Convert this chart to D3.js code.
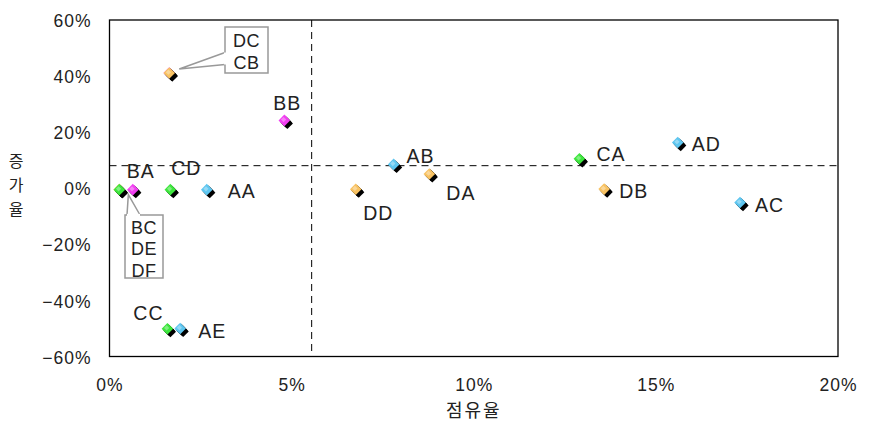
<!DOCTYPE html>
<html>
<head>
<meta charset="utf-8">
<script src="https://cdn.jsdelivr.net/npm/d3@7"></script>
<style>
  body { margin: 0; background: #fff; }
  svg text { font-family: "Liberation Sans", Arial, sans-serif; fill: #222; }
  .kr { font-family: "Noto Sans CJK KR", sans-serif; }
</style>
</head>
<body>
<div id="chart"></div>
<script>
// data, hidden points come first so they sit underneath
const names  = ['AA', 'AB', 'AC', 'AD', 'AE', 'BA', 'BB', 'DE', 'DF', 'BC', 'CA', 'CC', 'CD', 'CB', 'DC', 'DA', 'DB', 'DD'];
const share  = [2.67, 7.80, 17.31, 15.60, 1.94, 0.64, 4.80, 0.27, 0.27, 0.27, 12.90, 1.59, 1.67, 1.64, 1.64, 8.78, 13.58, 6.76];
const growth = [-0.5, 8.5, -5.1, 16.3, -50.0, -0.5, 24.2, -0.5, -0.5, -0.5, 10.5, -50.1, -0.5, 41.1, 41.1, 5.1, -0.3, -0.35];
const series = ['a', 'a', 'a', 'a', 'a', 'b', 'b', 'd', 'd', 'c', 'c', 'c', 'c', 'b', 'd', 'd', 'd', 'd'];
const xTicks = [0, 5, 10, 15, 20];
const yTicks = [-60, -40, -20, 0, 20, 40, 60];
const xRef = 5.55;   // average share
const yRef = 8.05;   // average growth
const callouts = [['DC', 'CB'], ['BC', 'DE', 'DF']];

const WIDTH = 881, HEIGHT = 429;
const colors = { a: '#5ec6f0', b: '#f23ef2', c: '#3de63d', d: '#f8c262' };

// label placement: [anchor, dx, dy]
const labelPos = {
  AA: ['start', 21, 8], BB: ['middle', 3, -10], BA: ['middle', 8, -12],
  CD: ['middle', 16, -15], CC: ['middle', -19, -9], AE: ['start', 18, 9.5],
  DD: ['middle', 22.5, 30.5], AB: ['start', 13, -1], DA: ['start', 17, 26],
  CA: ['start', 17, 2], AD: ['start', 14, 8], DB: ['start', 15, 8.5], AC: ['start', 15, 9]
};

const svg = d3.select('#chart').append('svg')
  .attr('width', WIDTH).attr('height', HEIGHT);

const x = d3.scaleLinear().domain([0, 20]).range([109.5, 838]);
const y = d3.scaleLinear().domain([-60, 60]).range([356.5, 20]);

const points = names.map((n, i) => ({ name: n, x: share[i], y: growth[i], s: series[i] }));

// frame
svg.append('rect')
  .attr('x', x(0)).attr('y', y(60))
  .attr('width', x(20) - x(0)).attr('height', y(-60) - y(60))
  .attr('fill', 'none').attr('stroke', '#000').attr('stroke-width', 1.3);

// reference lines
svg.append('line')
  .attr('x1', x(xRef)).attr('x2', x(xRef)).attr('y1', y(60)).attr('y2', y(-60))
  .attr('stroke', '#000').attr('stroke-width', 1).attr('stroke-dasharray', '7,5');
svg.append('line')
  .attr('x1', x(0)).attr('x2', x(20)).attr('y1', y(yRef)).attr('y2', y(yRef))
  .attr('stroke', '#000').attr('stroke-width', 1).attr('stroke-dasharray', '7,5');

// axes as tick labels only
const xAxis = svg.append('g').attr('transform', `translate(0, ${y(-60)})`)
  .call(d3.axisBottom(x).tickValues(xTicks).tickSize(0).tickFormat(d => d + '%'));
xAxis.select('.domain').remove();
xAxis.selectAll('text').attr('dy', '1.05em').attr('y', 16)
  .style('font-size', '17.5px').style('letter-spacing', '1px').attr('fill', '#222');

const yAxis = svg.append('g').attr('transform', `translate(${x(0)}, 0)`)
  .call(d3.axisLeft(y).tickValues(yTicks).tickSize(0).tickFormat(d => d3.format('')(d) + '%'));
yAxis.select('.domain').remove();
yAxis.selectAll('text').attr('x', -18).attr('dy', '0.38em')
  .style('font-size', '17.5px').style('letter-spacing', '1px').attr('fill', '#222');

// axis titles
svg.append('text').attr('class', 'kr')
  .attr('x', (x(0) + x(20)) / 2).attr('y', 417)
  .attr('text-anchor', 'middle').style('font-size', '18px').style('letter-spacing', '2px')
  .text('점유율');
['증', '가', '율'].forEach((c, i) => {
  svg.append('text').attr('class', 'kr')
    .attr('x', 16).attr('y', 167 + i * 24)
    .attr('text-anchor', 'middle').style('font-size', '16px')
    .text(c);
});

// markers: coloured diamond with a black extruded edge towards lower right
const diamond = (cx, cy, r) => `M${cx},${cy - r}L${cx + r},${cy}L${cx},${cy + r}L${cx - r},${cy}Z`;
const marks = svg.append('g');
marks.selectAll('g').data(points).join('g')
  .each(function (d) {
    const g = d3.select(this);
    const cx = x(d.x), cy = y(d.y);
    [1, 2, 3].forEach(o => {
      g.append('path').attr('d', diamond(cx + o, cy + o, 5.6)).attr('fill', '#000');
    });
    g.append('path').attr('d', diamond(cx, cy, 5.8)).attr('fill', colors[d.s]);
    g.append('path').attr('d', diamond(cx - 0.8, cy - 0.8, 2.6)).attr('fill', '#fff').attr('opacity', 0.35);
  });

// data labels
svg.append('g').selectAll('text')
  .data(points.filter(d => labelPos[d.name])).join('text')
  .attr('x', d => x(d.x) + labelPos[d.name][1])
  .attr('y', d => y(d.y) + labelPos[d.name][2])
  .attr('text-anchor', d => labelPos[d.name][0])
  .style('font-size', '19.5px').style('letter-spacing', '1px')
  .text(d => d.name);

// callout boxes
function callout(lines, target, box, base, tipOff) {
  const p = points.find(d => d.name === target);
  const tx = x(p.x) + tipOff[0], ty = y(p.y) + tipOff[1];
  const g = svg.append('g');
  g.append('rect').attr('x', box[0]).attr('y', box[1]).attr('width', box[2]).attr('height', box[3])
    .attr('fill', '#fff').attr('stroke', '#999').attr('stroke-width', 1.5);
  g.append('path')
    .attr('d', `M${base[0]},${base[1]}L${tx},${ty}L${base[2]},${base[3]}`)
    .attr('fill', '#fff').attr('stroke', '#999').attr('stroke-width', 1.5);
  g.append('path')
    .attr('d', `M${base[0]},${base[1]}L${base[2]},${base[3]}`)
    .attr('stroke', '#fff').attr('stroke-width', 2.2);
  lines.forEach((t, i) => {
    g.append('text').attr('x', box[0] + box[2] / 2).attr('y', box[1] + box[4] + i * box[5])
      .attr('text-anchor', 'middle').style('font-size', '18px').style('letter-spacing', '0.5px')
      .text(t);
  });
}
callout(callouts[0], 'DC', [225, 27, 43, 46, 19.5, 22], [225, 52.5, 225, 64.5], [10, -4]);
callout(callouts[1], 'BC', [125, 215, 38, 63, 18.5, 21.7], [127, 215, 140, 215], [9, 5]);
</script>
</body>
</html>
